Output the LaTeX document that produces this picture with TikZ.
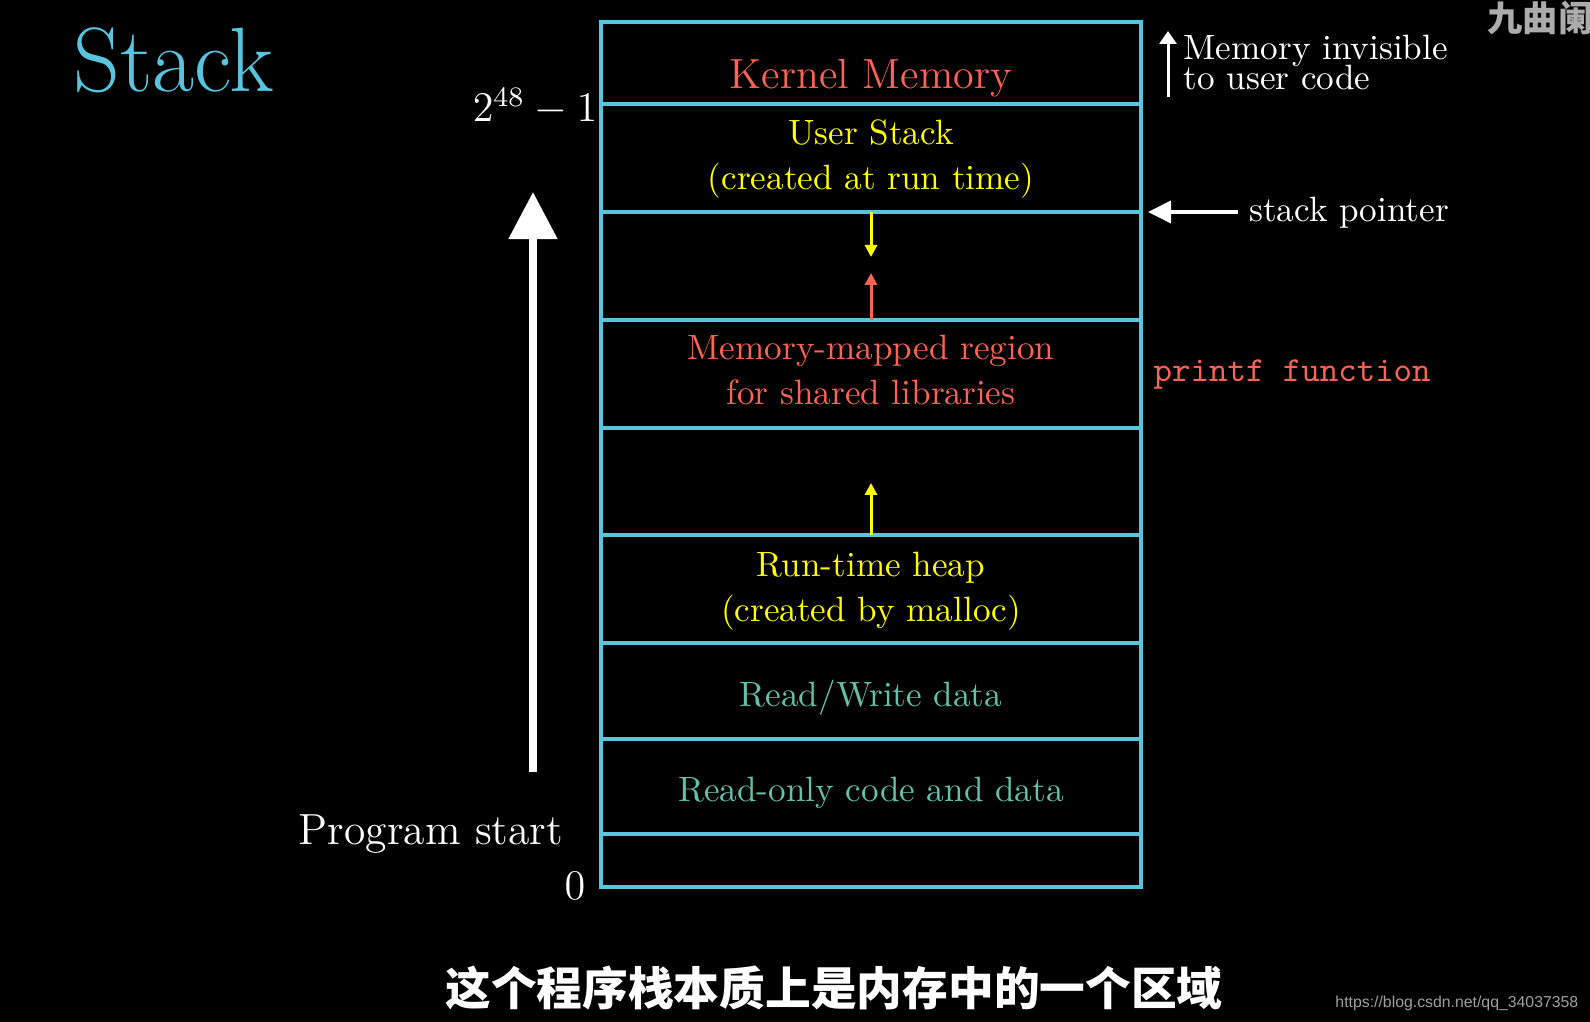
\documentclass[tikz,border=0pt]{standalone}
\usepackage{fontspec}
\newfontfamily\cjk{Noto Sans CJK SC}
\newfontfamily\urlfont{Liberation Sans}
\usetikzlibrary{positioning, arrows.meta}

\definecolor{stackblue}{HTML}{58C4DD}
\definecolor{kred}{HTML}{FC6255}
\definecolor{uyellow}{HTML}{FFFF00}
\definecolor{dteal}{HTML}{62C2A8}

\begin{document}
\begin{tikzpicture}[x=0.01cm, y=-0.01cm,
        seg/.style={draw=stackblue, line width=1.4pt},
        region/.style={align=center, inner sep=0pt, font=\fontsize{10}{12.8}\selectfont},
        big/.style={inner sep=0pt, text=white, font=\fontsize{12}{14}\selectfont},
        note/.style={inner sep=0pt, text=white, font=\fontsize{10}{12}\selectfont},
        growarrow/.style={-{Triangle[length=0.12cm, width=0.12cm]}, line width=0.85pt},
        ptr/.style={-{Triangle[length=0.23cm, width=0.22cm]}, line width=1.1pt, draw=white},
        startarrow/.style={-{Triangle[length=0.47cm, width=0.47cm]}, line width=2.3pt, draw=white}
    ]
        \fill[black] (0,0) rectangle (1590,1022);
        \useasboundingbox (0,0) rectangle (1590,1022);

        % memory layout
        \foreach \y in {104,212,320,428,535,643,739,834}
            \draw[seg] (601,\y) -- (1141,\y);
        \draw[seg] (601,22) rectangle (1141,887);

        \node[big, text=kred, anchor=base] (kernel) at (871,89) {Kernel Memory};
        \node[region, text=uyellow] (ustack) at (871,159) {User Stack\\(created at run time)};
        \node[region, text=kred] (mmap) at (871,370) {Memory-mapped region\\for shared libraries};
        \node[region, text=uyellow] (heap) at (871,591) {Run-time heap\\(created by malloc)};
        \node[region, text=dteal] (rwdata) at (871,698) {Read/Write data};
        \node[region, text=dteal] (rodata) at (871,793) {Read-only code and data};

        % growth directions
        \coordinate (stacktop) at (871,212);
        \coordinate (stackend) at (871,257);
        \coordinate (mmapbot) at (871,320);
        \coordinate (mmapend) at (871,273);
        \coordinate (heaptop) at (871,535);
        \coordinate (heapend) at (871,483);
        \draw[growarrow, draw=uyellow] (stacktop) -- (stackend);
        \draw[growarrow, draw=kred] (mmapbot) -- (mmapend);
        \draw[growarrow, draw=uyellow] (heaptop) -- (heapend);

        % addresses and program start
        \node[big, anchor=base east] (high) at (598,122) {$2^{48}-1$};
        \node[big, anchor=base east] (low) at (586,900) {$0$};
        \node[big, anchor=base, font=\fontsize{12.4}{14}\selectfont] (prog) at (431,845) {Program start};
        \coordinate (progfoot) at (533,772);
        \coordinate (progtip) at (533,192);
        \draw[startarrow] (progfoot) -- (progtip);

        \node[inner sep=0pt, text=stackblue, anchor=base west,
              font=\fontsize{26}{30}\selectfont] (title) at (73,92) {Stack};

        % right side notes
        \node[note, anchor=base west] (invis1) at (1183,60) {Memory invisible};
        \node[note, anchor=base west] (invis2) at (1183,90) {to user code};
        \coordinate (invisfoot) at (1168,97);
        \coordinate (invistip) at (1168,31);
        \draw[-{Triangle[length=0.13cm, width=0.17cm]}, line width=0.85pt, draw=white]
            (invisfoot) -- (invistip);

        \node[note, anchor=base west, inner xsep=3pt] (sp) at (1238,222) {stack pointer};
        \coordinate (sptip) at (1148,212);
        \draw[ptr] (sp.west |- sptip) -- (sptip);

        \node[inner sep=0pt, text=kred, anchor=base west,
              font=\fontsize{10}{12}\selectfont\ttfamily] (printf) at (1153,382) {printf function};

        % caption and marks
        \node[inner sep=0pt, text=white, font=\fontsize{13}{15}\selectfont\cjk\bfseries]
            (caption) at (834,988) {这个程序栈本质上是内存中的一个区域};
        \node[inner sep=0pt, text=gray!65, anchor=west, font=\fontsize{10}{12}\selectfont\cjk\bfseries]
            (mark) at (1487,18) {九曲阑};
        \node[inner sep=0pt, text=gray!75, anchor=base east, font=\fontsize{4.5}{5}\selectfont\urlfont]
            (url) at (1579,1008) {https://blog.csdn.net/qq\_34037358};
    \end{tikzpicture}
\end{document}
